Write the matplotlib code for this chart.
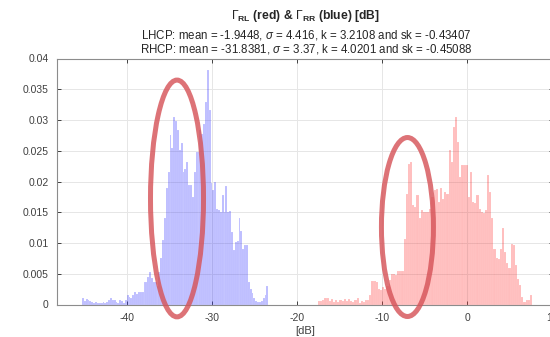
import numpy as np
import matplotlib
matplotlib.use("Agg")
import matplotlib.pyplot as plt
from matplotlib.patches import Ellipse

plt.rcParams['font.family'] = ['Liberation Sans', 'DejaVu Sans']
plt.rcParams['mathtext.fontset'] = 'custom'
plt.rcParams['mathtext.rm'] = 'Liberation Sans'
plt.rcParams['mathtext.it'] = 'Liberation Sans:italic'
plt.rcParams['mathtext.bf'] = 'Liberation Sans:bold'

# ---- data (probability per bin) ----
rr_range = (-45.33, -23.40)   # blue, Gamma_RR
rl_range = (-17.56, 7.63)     # red, Gamma_RL

rr_values = [
    0.0011, 0.0005, 0.0009, 0.0007, 0.0005, 0.0004, 0.0003, 0.0004, 0.0003, 0.0002,
    0.0003, 0.0004, 0.0003, 0.0004, 0.0008, 0.0011, 0.0007, 0.0008, 0.0004, 0.0003,
    0.0007, 0.0006, 0.0003, 0.0007, 0.0015, 0.0012, 0.0010, 0.0015, 0.0020, 0.0017,
    0.0020, 0.0021, 0.0020, 0.0037, 0.0037, 0.0045, 0.0053, 0.0043, 0.0037, 0.0037,
    0.0030, 0.0053, 0.0075, 0.0105, 0.0140, 0.0189, 0.0216, 0.0276, 0.0254, 0.0305,
    0.0299, 0.0283, 0.0252, 0.0263, 0.0216, 0.0221, 0.0232, 0.0194, 0.0194, 0.0175,
    0.0216, 0.0248, 0.0248, 0.0283, 0.0278, 0.0294, 0.0330, 0.0381, 0.0316, 0.0197,
    0.0186, 0.0200, 0.0156, 0.0154, 0.0151, 0.0178, 0.0150, 0.0192, 0.0150, 0.0152,
    0.0118, 0.0088, 0.0101, 0.0104, 0.0140, 0.0120, 0.0090, 0.0096, 0.0096, 0.0037,
    0.0026, 0.0018, 0.0010, 0.0005, 0.0004, 0.0004, 0.0006, 0.0010, 0.0015, 0.0030,
]

rl_values = [
    0.0006, 0.0005, 0.0007, 0.0010, 0.0011, 0.0005, 0.0009, 0.0004, 0.0007, 0.0004,
    0.0007, 0.0005, 0.0009, 0.0005, 0.0009, 0.0006, 0.0004, 0.0007, 0.0010, 0.0003,
    0.0005, 0.0004, 0.0007, 0.0008, 0.0015, 0.0038, 0.0038, 0.0036, 0.0026, 0.0023,
    0.0029, 0.0026, 0.0030, 0.0040, 0.0050, 0.0050, 0.0048, 0.0054, 0.0054, 0.0055,
    0.0107, 0.0180, 0.0229, 0.0232, 0.0162, 0.0159, 0.0178, 0.0140, 0.0153, 0.0150,
    0.0150, 0.0150, 0.0155, 0.0175, 0.0186, 0.0188, 0.0167, 0.0190, 0.0172, 0.0183,
    0.0180, 0.0251, 0.0232, 0.0289, 0.0305, 0.0264, 0.0208, 0.0227, 0.0227, 0.0227,
    0.0175, 0.0216, 0.0167, 0.0165, 0.0178, 0.0155, 0.0150, 0.0148, 0.0153, 0.0210,
    0.0183, 0.0140, 0.0091, 0.0075, 0.0074, 0.0091, 0.0124, 0.0086, 0.0067, 0.0059,
    0.0099, 0.0097, 0.0064, 0.0042, 0.0031, 0.0012, 0.0004, 0.0007, 0.0007, 0.0016,
]

x_ticks = [-40, -30, -20, -10, 0, 10]
y_ticks = [0, 0.005, 0.01, 0.015, 0.02, 0.025, 0.03, 0.035, 0.04]
y_tick_labels = ['0', '0.005', '0.01', '0.015', '0.02', '0.025', '0.03', '0.035', '0.04']

title1 = r'$\Gamma_{\mathbf{RL}}$ (red) & $\Gamma_{\mathbf{RR}}$ (blue) [dB]'
title2 = r'LHCP: mean = -1.9448, $\sigma$ = 4.416, k = 3.2108 and sk = -0.43407'
title3 = r'RHCP: mean = -31.8381, $\sigma$ = 3.37, k = 4.0201 and sk = -0.45088'
xlabel = '[dB]'

# annotation ellipses (center x [dB], center y, width [dB], height)
ellipses = [(-34.15, 0.01724, 6.24, 0.0385), (-7.03, 0.0126, 6.12, 0.0291)]

# ---- figure ----
W, H = 550, 337
fig = plt.figure(figsize=(W / 100, H / 100), dpi=100)
ax = fig.add_axes([57.2 / W, (H - 304.5) / H, 495.8 / W, 246.0 / H])

def draw_hist(values, rng, color):
    edges = np.linspace(rng[0], rng[1], len(values) + 1)
    widths = np.diff(edges)
    ax.bar(edges[:-1], values, width=widths, align='edge', color=color,
           alpha=0.26, edgecolor='white', linewidth=0.25, zorder=2)

draw_hist(rr_values, rr_range, (0, 0, 1))
draw_hist(rl_values, rl_range, (1, 0, 0))

ax.set_xlim(-48.25, 10.1)
ax.set_ylim(0, 0.04)
ax.set_xticks(x_ticks)
ax.set_xticklabels([str(t) for t in x_ticks])
ax.set_yticks(y_ticks)
ax.set_yticklabels(y_tick_labels)
ax.grid(True, color='#e6e6e6', linewidth=0.7, zorder=0)
ax.set_axisbelow(True)
for s in ax.spines.values():
    s.set_color('#8c8c8c')
    s.set_linewidth(0.8)
ax.tick_params(direction='in', length=3, width=0.6, color='#262626',
               labelsize=7.5, labelcolor='#404040', top=True, right=True, pad=6)
ax.set_xlabel(xlabel, fontsize=8, color='#404040', labelpad=2)

for (cx, cy, w, h) in ellipses:
    e = Ellipse((cx, cy), w, h, fill=False, edgecolor=(0.84, 0.33, 0.35),
                alpha=0.82, linewidth=3.6, clip_on=False, zorder=5)
    ax.add_patch(e)

fig.text(305 / W, 1 - 16 / H, title1, ha='center', va='center', fontsize=8.7,
         fontweight='bold', color='#262626')
fig.text(306.7 / W, 1 - 34.5 / H, title2, ha='center', va='center', fontsize=8.3,
         color='#262626')
fig.text(306.7 / W, 1 - 49.5 / H, title3, ha='center', va='center', fontsize=8.3,
         color='#262626')

fig.savefig('out.png', dpi=100)
